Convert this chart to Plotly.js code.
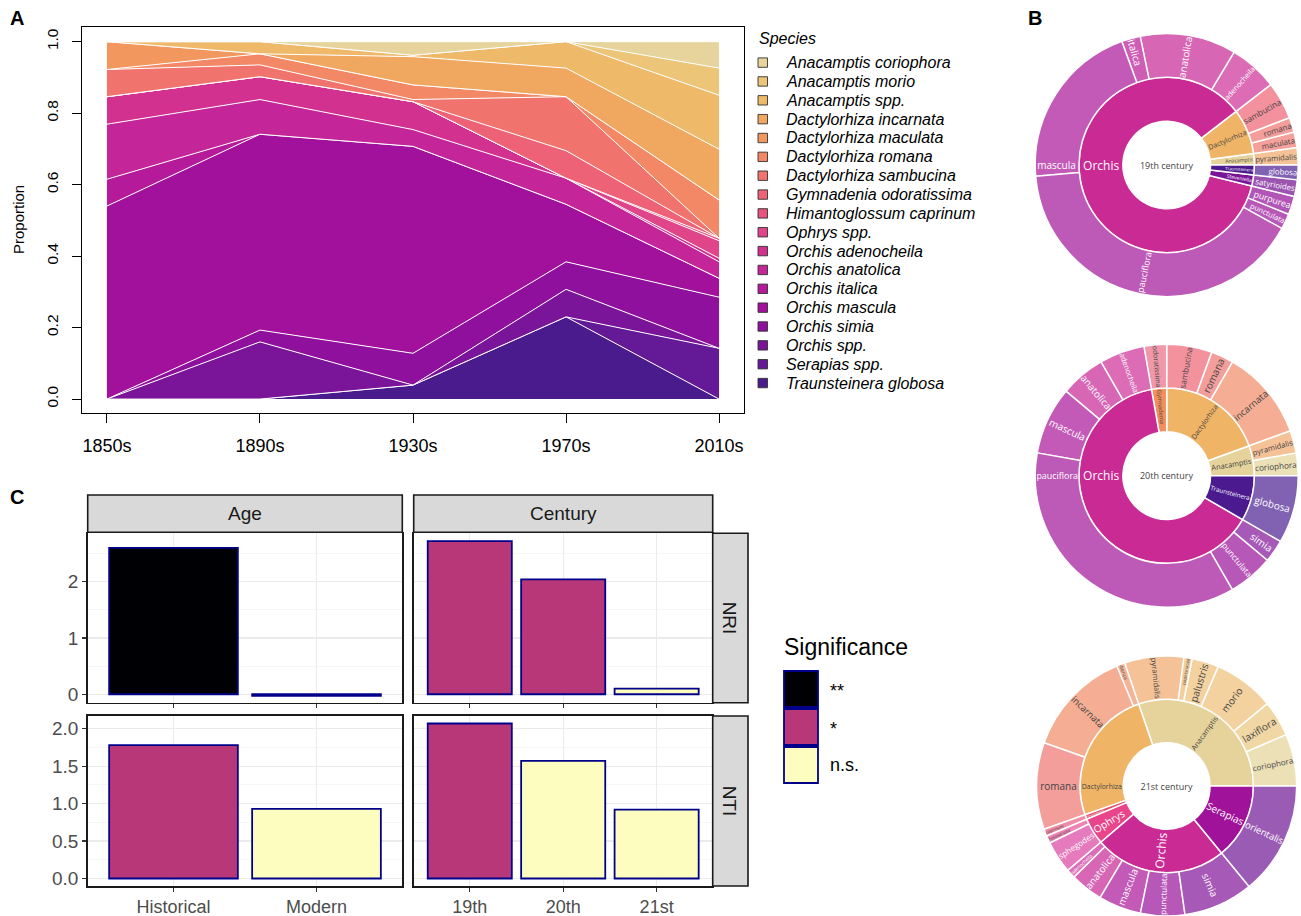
<!DOCTYPE html>
<html><head><meta charset="utf-8">
<script src="https://cdn.plot.ly/plotly-3.0.1.min.js"></script>
<style>html,body{margin:0;padding:0;background:#fff;} #chart{width:1301px;height:916px;}</style>
</head><body><div id="chart"></div>
<script>
const W = 1301, H = 916;
const fx = p => p / W;
const fy = p => 1 - p / H;

// ---------------- Panel A data (proportions per decade) ----------------
const decades = ['1850s', '1890s', '1930s', '1970s', '2010s'];
const traunsteineraGlobosa   = [0, 0, 0.039, 0.230, 0];
const serapiasSpp            = [0, 0, 0, 0, 0.142];
const orchisSpp              = [0, 0.160, 0, 0.077, 0];
const orchisSimia            = [0, 0.033, 0.089, 0.077, 0.143];
const orchisMascula          = [0.540, 0.548, 0.579, 0.161, 0.053];
const orchisItalica          = [0.075, 0, 0, 0, 0];
const orchisAnatolica        = [0.154, 0.097, 0.047, 0.073, 0.046];
const orchisAdenocheila      = [0.077, 0.064, 0.078, 0, 0.010];
const ophrysSpp              = [0, 0, 0, 0, 0.049];
const himantoglossumCaprinum = [0, 0, 0, 0, 0.007];
const gymnadeniaOdoratissima = [0, 0, 0, 0.077, 0];
const dactylorhizaSambucina  = [0.076, 0.033, 0.006, 0.151, 0];
const dactylorhizaRomana     = [0, 0.031, 0.041, 0, 0.107];
const dactylorhizaMaculata   = [0.078, 0, 0, 0, 0];
const dactylorhizaIncarnata  = [0, 0, 0.079, 0.080, 0.142];
const anacamptisSpp          = [0, 0.034, 0.004, 0.074, 0.151];
const anacamptisMorio        = [0, 0, 0, 0, 0.076];
const anacamptisCoriophora   = [0, 0, 0.038, 0, 0.074];

const speciesNames = ['Traunsteinera globosa', 'Serapias spp.', 'Orchis spp.', 'Orchis simia', 'Orchis mascula',
  'Orchis italica', 'Orchis anatolica', 'Orchis adenocheila', 'Ophrys spp.', 'Himantoglossum caprinum',
  'Gymnadenia odoratissima', 'Dactylorhiza sambucina', 'Dactylorhiza romana', 'Dactylorhiza maculata',
  'Dactylorhiza incarnata', 'Anacamptis spp.', 'Anacamptis morio', 'Anacamptis coriophora'];
const speciesShares = [traunsteineraGlobosa, serapiasSpp, orchisSpp, orchisSimia, orchisMascula,
  orchisItalica, orchisAnatolica, orchisAdenocheila, ophrysSpp, himantoglossumCaprinum,
  gymnadeniaOdoratissima, dactylorhizaSambucina, dactylorhizaRomana, dactylorhizaMaculata,
  dactylorhizaIncarnata, anacamptisSpp, anacamptisMorio, anacamptisCoriophora];
const speciesColors = ['#4a1b8d', '#641997', '#7a1599', '#8f109c', '#a1119b',
  '#b41a9a', '#c42598', '#d33190', '#e04589', '#e8537f',
  '#ed6276', '#f0746d', '#f28866', '#f2985f',
  '#f0a75f', '#efb96a', '#ecc578', '#e7d39c'];

// ---------------- Panel B data (sunbursts) ----------------
const c19Genus   = ['Anacamptis', 'Dactylorhiza', 'Dactylorhiza', 'Dactylorhiza', 'Orchis', 'Orchis', 'Orchis', 'Orchis', 'Orchis', 'Orchis', 'Orchis', 'Steveniella', 'Traunsteinera'];
const c19Species = ['pyramidalis', 'maculata', 'romana', 'sambucina', 'adenocheila', 'anatolica', 'italica', 'mascula', 'pauciflora', 'punctulata', 'purpurea', 'satyrioides', 'globosa'];
const c19Share   = [7.6, 6.9, 6.6, 16.6, 21.5, 42.5, 8.3, 75, 146.4, 6.8, 8.1, 7.4, 6.5];

const c20Genus   = ['Anacamptis', 'Anacamptis', 'Dactylorhiza', 'Dactylorhiza', 'Dactylorhiza', 'Gymnadenia', 'Orchis', 'Orchis', 'Orchis', 'Orchis', 'Orchis', 'Orchis', 'Traunsteinera'];
const c20Species = ['coriophora', 'pyramidalis', 'incarnata', 'romana', 'sambucina', 'odoratissima', 'adenocheila', 'anatolica', 'mascula', 'pauciflora', 'punctulata', 'simia', 'globosa'];
const c20Share   = [1, 1, 4, 1, 2, 1, 2, 2, 3, 13, 2, 1, 3];

const c21Genus   = ['Anacamptis', 'Anacamptis', 'Anacamptis', 'Anacamptis', 'Anacamptis', 'Anacamptis', 'Dactylorhiza', 'Dactylorhiza', 'Dactylorhiza', 'Himantoglossum', 'Ophrys', 'Ophrys', 'Orchis', 'Orchis', 'Orchis', 'Orchis', 'Orchis', 'Serapias'];
const c21Species = ['coriophora', 'laxiflora', 'morio', 'palustris', 'papilionacea', 'pyramidalis', 'iberica', 'incarnata', 'romana', 'caprinum', 'holosericea', 'sphegodes', 'adenocheila', 'anatolica', 'mascula', 'punctulata', 'simia', 'orientalis'];
const c21Share   = [23.3, 16, 27.4, 12, 3.7, 26.5, 3.7, 48, 38.8, 3.2, 3.4, 14.5, 4, 14.7, 19.1, 19.8, 31.2, 50.7];

// ---------------- Panel C data ----------------
const ageGroups = ['Historical', 'Modern'];
const centuryGroups = ['19th', '20th', '21st'];
const nriAge = [2.60, -0.03];
const nriAgeSig = ['**', 'n.s.'];
const nriCentury = [2.72, 2.04, 0.10];
const nriCenturySig = ['*', '*', 'n.s.'];
const ntiAge = [1.78, 0.93];
const ntiAgeSig = ['*', 'n.s.'];
const ntiCentury = [2.07, 1.57, 0.92];
const ntiCenturySig = ['*', 'n.s.', 'n.s.'];
const sigLevels = ['**', '*', 'n.s.'];

// ---------------- styles ----------------
const FONT = 'Liberation Sans, Arial, Helvetica, sans-serif';
const sigColors = {'**': '#000004', '*': '#b73779', 'n.s.': '#fcfdbf'};
const genusColor = {
  'Anacamptis': '#e6d39b', 'Dactylorhiza': '#f0b466', 'Gymnadenia': '#f28f5c', 'Himantoglossum': '#e0506a',
  'Ophrys': '#e8458a', 'Orchis': '#c92a93', 'Serapias': '#a1129b', 'Steveniella': '#7a1497', 'Traunsteinera': '#4b1a8e'
};
// apparent (on white, leaf opacity 0.7) colours of the outer ring
const leafShown = {
  'Anacamptis coriophora': '#ede0b8', 'Anacamptis laxiflora': '#f2d8a4', 'Anacamptis morio': '#f3d3a0',
  'Anacamptis palustris': '#f4d2a0', 'Anacamptis papilionacea': '#f4cf9e', 'Anacamptis pyramidalis': '#f6c399',
  'Dactylorhiza iberica': '#f5b598', 'Dactylorhiza incarnata': '#f5af94', 'Dactylorhiza maculata': '#f5a19c',
  'Dactylorhiza romana': '#f49f9c', 'Dactylorhiza sambucina': '#f3939e', 'Gymnadenia odoratissima': '#f199aa',
  'Himantoglossum caprinum': '#ee8ca8', 'Ophrys holosericea': '#ec86b4', 'Ophrys sphegodes': '#e67bbd',
  'Orchis adenocheila': '#dd6db7', 'Orchis anatolica': '#d868b6', 'Orchis italica': '#cd5fb6',
  'Orchis mascula': '#c45bb8', 'Orchis pauciflora': '#be5ab8', 'Orchis punctulata': '#b859b9',
  'Orchis purpurea': '#b257b8', 'Orchis simia': '#a75ab7', 'Serapias orientalis': '#9a5cb4',
  'Steveniella satyrioides': '#9c55b0', 'Traunsteinera globosa': '#8262b3'
};
function baseOf(hex) {
  const n = [1, 3, 5].map(i => parseInt(hex.substr(i, 2), 16));
  const b = n.map(v => Math.max(0, Math.min(255, Math.round((v - 0.3 * 255) / 0.7))));
  return '#' + b.map(v => v.toString(16).padStart(2, '0')).join('');
}

const traces = [];

// Panel A stacked areas
speciesNames.forEach((name, i) => {
  traces.push({
    type: 'scatter', x: decades, y: speciesShares[i], name: name,
    stackgroup: 'one', mode: 'lines', fillcolor: speciesColors[i],
    line: {color: '#ffffff', width: 1}, xaxis: 'x', yaxis: 'y', showlegend: false, hoverinfo: 'skip'
  });
});

// Panel B sunbursts
function sunburst(root, genus, species, share, dom) {
  const ids = [root], labels = [root], parents = [''], values = [0], colors = ['#ffffff'], sizes = [9];
  const seen = [];
  genus.forEach(g => {
    if (!seen.includes(g)) {
      seen.push(g); ids.push(root + '/' + g); labels.push(g); parents.push(root); values.push(0);
      colors.push(genusColor[g]); sizes.push(12);
    }
  });
  species.forEach((s, i) => {
    ids.push(root + '/' + genus[i] + '/' + s); labels.push(s); parents.push(root + '/' + genus[i]);
    values.push(share[i]); colors.push(baseOf(leafShown[genus[i] + ' ' + s])); sizes.push(10);
  });
  return {
    type: 'sunburst', ids, labels, parents, values, branchvalues: 'remainder', sort: false,
    marker: {colors, line: {color: '#ffffff', width: 1.5}},
    textinfo: 'label', insidetextorientation: 'radial',
    textfont: {family: 'Open Sans, sans-serif', size: sizes},
    domain: dom, hoverinfo: 'skip'
  };
}
const R = 131.5, CX = 1166.7;
traces.push(sunburst('19th century', c19Genus, c19Species, c19Share,
  {x: [fx(CX - R), fx(CX + R)], y: [fy(165 + R), fy(165 - R)]}));
traces.push(sunburst('20th century', c20Genus, c20Species, c20Share,
  {x: [fx(CX - R), fx(CX + R)], y: [fy(475.7 + R), fy(475.7 - R)]}));
traces.push(sunburst('21st century', c21Genus, c21Species, c21Share,
  {x: [fx(CX - 130), fx(CX + 130)], y: [0, fy(656)]}));

// Panel C bars
function bars(x, y, sig, xa, ya) {
  return {
    type: 'bar', x, y, width: 0.9, xaxis: xa, yaxis: ya, showlegend: false, hoverinfo: 'skip',
    marker: {color: sig.map(s => sigColors[s]), line: {color: '#00008b', width: 1.8}}
  };
}
traces.push(bars(ageGroups, nriAge, nriAgeSig, 'x2', 'y2'));
traces.push(bars(centuryGroups, nriCentury, nriCenturySig, 'x3', 'y3'));
traces.push(bars(ageGroups, ntiAge, ntiAgeSig, 'x4', 'y4'));
traces.push(bars(centuryGroups, ntiCentury, ntiCenturySig, 'x5', 'y5'));

// ---------------- layout ----------------
const shapes = [], annotations = [];
[['A', 17, 18], ['B', 1035, 18], ['C', 17, 497]].forEach(([t, x, y]) => annotations.push({
  text: '<b>' + t + '</b>', x: fx(x), y: fy(y), xref: 'paper', yref: 'paper', showarrow: false,
  xanchor: 'center', yanchor: 'middle', font: {family: FONT, size: 20, color: '#000'}
}));
annotations.push({text: 'Proportion', x: fx(18), y: fy(220), xref: 'paper', yref: 'paper', showarrow: false,
  textangle: -90, xanchor: 'center', yanchor: 'middle', font: {family: FONT, size: 15, color: '#000'}});
annotations.push({text: '<i>Species</i>', x: fx(757), y: fy(38), xref: 'paper', yref: 'paper', showarrow: false,
  xanchor: 'left', yanchor: 'middle', font: {family: FONT, size: 16, color: '#000'}});
const legendOrder = speciesNames.map((n, i) => i).reverse();
legendOrder.forEach((idx, k) => {
  const cy = 62.6 + k * 18.85;
  shapes.push({type: 'rect', xref: 'paper', yref: 'paper', x0: fx(758), x1: fx(767.5), y0: fy(cy + 4.7), y1: fy(cy - 4.7),
    fillcolor: speciesColors[idx], line: {color: '#333333', width: 0.9}});
  annotations.push({text: '<i>' + speciesNames[idx] + '</i>', x: fx(784), y: fy(cy), xref: 'paper', yref: 'paper',
    showarrow: false, xanchor: 'left', yanchor: 'middle', font: {family: FONT, size: 16, color: '#000'}});
});
const strips = [
  {x0: 87.7, x1: 402.3, y0: 495, y1: 532.3, t: 'Age', a: 0},
  {x0: 413.7, x1: 712.7, y0: 495, y1: 532.3, t: 'Century', a: 0},
  {x0: 712.7, x1: 748, y0: 533.3, y1: 702.7, t: 'NRI', a: 90},
  {x0: 712.7, x1: 748, y0: 716, y1: 886, t: 'NTI', a: 90}
];
strips.forEach(s => {
  shapes.push({type: 'rect', xref: 'paper', yref: 'paper', x0: fx(s.x0), x1: fx(s.x1), y0: fy(s.y1), y1: fy(s.y0),
    fillcolor: '#d9d9d9', line: {color: '#1a1a1a', width: 1.6}});
  annotations.push({text: s.t, x: fx((s.x0 + s.x1) / 2), y: fy((s.y0 + s.y1) / 2), xref: 'paper', yref: 'paper',
    showarrow: false, textangle: s.a, xanchor: 'center', yanchor: 'middle', font: {family: FONT, size: 19, color: '#1a1a1a'}});
});
annotations.push({text: 'Significance', x: fx(782), y: fy(647), xref: 'paper', yref: 'paper', showarrow: false,
  xanchor: 'left', yanchor: 'middle', font: {family: FONT, size: 23, color: '#000'}});
sigLevels.forEach((s, k) => {
  const top = 671 + k * 38;
  shapes.push({type: 'rect', xref: 'paper', yref: 'paper', x0: fx(784), x1: fx(818), y0: fy(top + 36), y1: fy(top),
    fillcolor: sigColors[s], line: {color: '#00008b', width: 1.8}});
  annotations.push({text: s, x: fx(828), y: fy(top + 18 + (s === 'n.s.' ? 0 : 2)), xref: 'paper', yref: 'paper',
    showarrow: false, xanchor: 'left', yanchor: 'middle', font: {family: FONT, size: 18, color: '#000'}});
});

const rAxisX = {
  showline: true, mirror: true, linecolor: '#000', linewidth: 1, ticks: 'outside', ticklen: 9, tickcolor: '#000',
  showgrid: false, zeroline: false, fixedrange: true
};
const ggX = {
  type: 'category', range: [-0.6, 1.6], showline: true, mirror: true, linecolor: '#1a1a1a', linewidth: 1.6,
  ticks: 'outside', ticklen: 4, tickwidth: 1.3, tickcolor: '#333', showgrid: true, gridcolor: '#ebebeb', gridwidth: 1.2,
  zeroline: false, tickfont: {family: FONT, size: 18, color: '#4d4d4d'}, ticklabelstandoff: 0
};
const ggY = {
  showline: true, mirror: true, linecolor: '#1a1a1a', linewidth: 1.6, ticks: 'outside', ticklen: 4, tickwidth: 1.3,
  tickcolor: '#333', showgrid: true, gridcolor: '#ebebeb', gridwidth: 1.2, zeroline: false,
  tickfont: {family: FONT, size: 19, color: '#4d4d4d'}
};

const layout = {
  width: W, height: H, margin: {l: 0, r: 0, t: 0, b: 0}, paper_bgcolor: '#fff', plot_bgcolor: '#fff',
  font: {family: FONT}, showlegend: false, barmode: 'overlay',
  xaxis: Object.assign({}, rAxisX, {domain: [fx(82), fx(744)], anchor: 'y', type: 'category', range: [-0.163, 4.163],
    tickfont: {family: FONT, size: 18, color: '#000'}, ticklabelstandoff: 7}),
  yaxis: Object.assign({}, rAxisX, {domain: [fy(413), fy(27)], anchor: 'x', range: [-0.039, 1.041],
    tickvals: [0, 0.2, 0.4, 0.6, 0.8, 1.0], tickformat: '.1f', tickangle: -90,
    tickfont: {family: FONT, size: 15.5, color: '#000'}, ticklabelstandoff: 8}),
  xaxis2: Object.assign({}, ggX, {domain: [fx(87.7), fx(402.3)], anchor: 'y2', showticklabels: false}),
  yaxis2: Object.assign({}, ggY, {domain: [fy(702.7), fy(533.3)], anchor: 'x2', range: [-0.15, 2.86], dtick: 1, tick0: 0,
    minor: {dtick: 0.5, tick0: 0, showgrid: true, gridcolor: '#f3f3f3', gridwidth: 0.7}}),
  xaxis3: Object.assign({}, ggX, {domain: [fx(413.7), fx(712.7)], anchor: 'y3', range: [-0.6, 2.6], showticklabels: false}),
  yaxis3: Object.assign({}, ggY, {domain: [fy(702.7), fy(533.3)], anchor: 'x3', matches: 'y2', ticks: '', showticklabels: false,
    dtick: 1, tick0: 0, minor: {dtick: 0.5, tick0: 0, showgrid: true, gridcolor: '#f3f3f3', gridwidth: 0.7}}),
  xaxis4: Object.assign({}, ggX, {domain: [fx(87.7), fx(402.3)], anchor: 'y4'}),
  yaxis4: Object.assign({}, ggY, {domain: [fy(886), fy(716)], anchor: 'x4', range: [-0.1, 2.17], dtick: 0.5, tick0: 0,
    tickformat: '.1f', minor: {dtick: 0.25, tick0: 0, showgrid: true, gridcolor: '#f3f3f3', gridwidth: 0.7}}),
  xaxis5: Object.assign({}, ggX, {domain: [fx(413.7), fx(712.7)], anchor: 'y5', range: [-0.6, 2.6]}),
  yaxis5: Object.assign({}, ggY, {domain: [fy(886), fy(716)], anchor: 'x5', matches: 'y4', ticks: '', showticklabels: false,
    dtick: 0.5, tick0: 0, minor: {dtick: 0.25, tick0: 0, showgrid: true, gridcolor: '#f3f3f3', gridwidth: 0.7}}),
  shapes, annotations
};

Plotly.newPlot('chart', traces, layout, {staticPlot: true, displayModeBar: false});
</script></body></html>
